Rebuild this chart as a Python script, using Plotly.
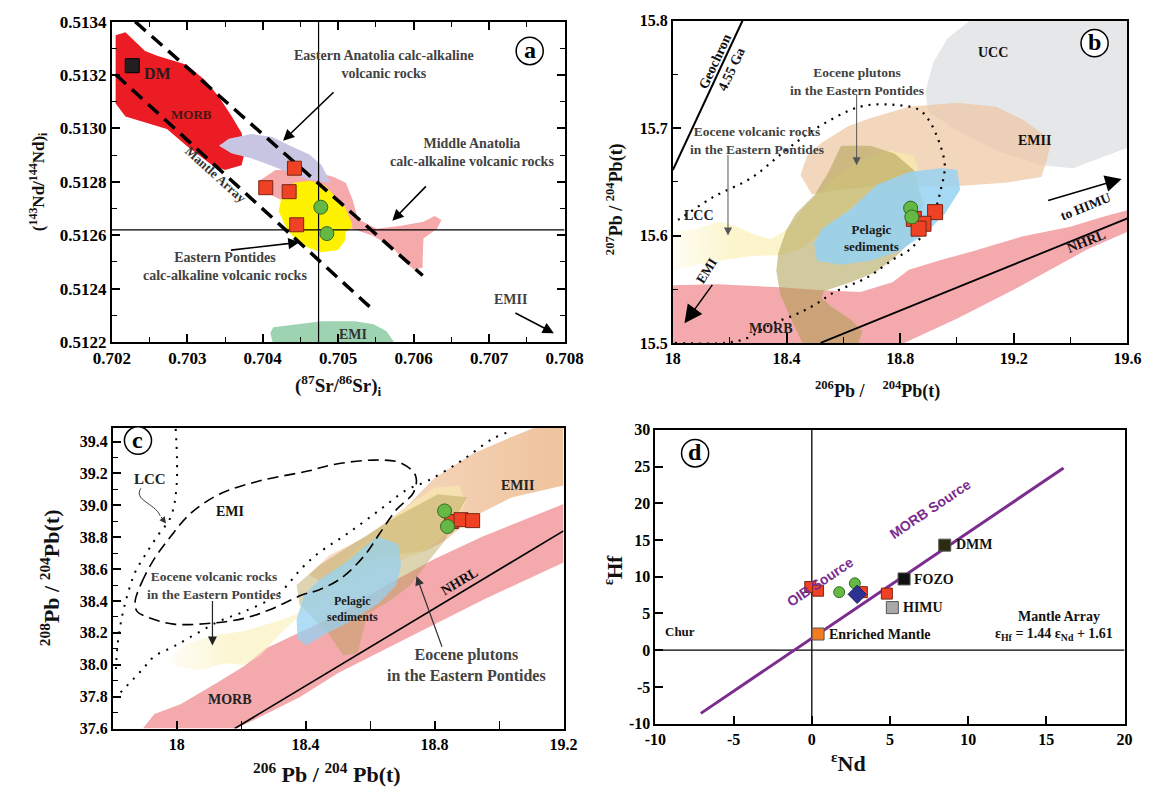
import plotly.graph_objects as go

W, H = 1160, 802
SERIF = "Liberation Serif"
SANS = "Liberation Sans"

# ---------------- panel a : (87Sr/86Sr)i vs (143Nd/144Nd)i ----------------
a_morb_x = [0.70205, 0.70218, 0.70244, 0.70260, 0.70299, 0.70324, 0.70342, 0.70359, 0.70372, 0.70376,
            0.70372, 0.70350, 0.70333, 0.70299, 0.70273, 0.70247, 0.70218, 0.70205, 0.70205]
a_morb_y = [0.513349, 0.513360, 0.513290, 0.513272, 0.513239, 0.513180, 0.513118, 0.513045, 0.512983, 0.512910,
            0.512862, 0.512844, 0.512862, 0.512935, 0.512998, 0.513019, 0.513045, 0.513093, 0.513202]
a_eanat_x = [0.70342, 0.70355, 0.70385, 0.70413, 0.70436, 0.70462, 0.70478, 0.70490, 0.70462, 0.70436,
             0.70410, 0.70385, 0.70359]
a_eanat_y = [0.512935, 0.512961, 0.512979, 0.512968, 0.512935, 0.512902, 0.512862, 0.512796, 0.512807, 0.512833,
             0.512862, 0.512888, 0.512906]
a_manat_x = [0.70397, 0.70417, 0.70462, 0.70494, 0.70510, 0.70519, 0.70526, 0.70551, 0.70583, 0.70613,
             0.70628, 0.70637, 0.70631, 0.70613, 0.70612, 0.70612, 0.70600, 0.70587, 0.70571, 0.70545,
             0.70519, 0.70487, 0.70449, 0.70410]
a_manat_y = [0.512807, 0.512844, 0.512844, 0.512818, 0.512796, 0.512734, 0.512661, 0.512624, 0.512635, 0.512650,
             0.512672, 0.512657, 0.512624, 0.512588, 0.512515, 0.512478, 0.512471, 0.512504, 0.512558, 0.512599,
             0.512624, 0.512643, 0.512697, 0.512752]
a_epont_x = [0.70426, 0.70442, 0.70462, 0.70481, 0.70491, 0.70509, 0.70517, 0.70519, 0.70510, 0.70509,
             0.70500, 0.70478, 0.70462, 0.70445, 0.70432, 0.70421]
a_epont_y = [0.512760, 0.512796, 0.512804, 0.512789, 0.512760, 0.512705, 0.512654, 0.512632, 0.512613, 0.512580,
             0.512544, 0.512536, 0.512551, 0.512577, 0.512624, 0.512690]
a_emi_x = [0.70413, 0.70410, 0.70414, 0.70436, 0.70478, 0.70522, 0.70547, 0.70564, 0.70574]
a_emi_y = [0.51220, 0.512233, 0.512255, 0.512262, 0.512277, 0.512277, 0.512266, 0.512240, 0.51220]
a_array_up_x = [0.70231, 0.70612]
a_array_up_y = [0.51340, 0.512449]
a_array_lo_x = [0.70205, 0.70549]
a_array_lo_y = [0.513202, 0.512313]
a_dm_x, a_dm_y = [0.70227], [0.513235]
a_sq_x = [0.70404, 0.70435, 0.70442, 0.70445]
a_sq_y = [0.512778, 0.512763, 0.512851, 0.512639]
a_ci_x = [0.70477, 0.70485]
a_ci_y = [0.512705, 0.512606]
a_ref_sr = 0.70474
a_ref_nd = 0.51262

# ---------------- panel b : 206Pb/204Pb vs 207Pb/204Pb ----------------
b_ucc_x = [19.045, 18.967, 18.916, 18.889, 18.899, 19.001, 19.137, 19.297, 19.409, 19.511, 19.6, 19.6]
b_ucc_y = [15.8, 15.7836, 15.7609, 15.7336, 15.7155, 15.6973, 15.6791, 15.6655, 15.6627, 15.6727, 15.6818, 15.8]
b_emii_x = [18.449, 18.473, 18.524, 18.616, 18.694, 18.831, 19.001, 19.137, 19.229, 19.297,
            19.331, 19.314, 19.297, 19.171, 19.069, 18.967, 18.763, 18.592, 18.490]
b_emii_y = [15.6564, 15.6745, 15.6864, 15.7018, 15.7091, 15.7200, 15.7236, 15.7200, 15.7082, 15.6955,
            15.6864, 15.6682, 15.6545, 15.6491, 15.6473, 15.6455, 15.6473, 15.6427, 15.6382]
b_lcc_x = [18.0, 18.082, 18.160, 18.218, 18.276, 18.344, 18.405, 18.473, 18.558, 18.660, 18.763,
           18.848, 18.865, 18.780, 18.660, 18.558, 18.456, 18.378, 18.276, 18.160, 18.082, 18.0]
b_lcc_y = [15.6036, 15.6064, 15.6127, 15.6091, 15.6018, 15.5964, 15.6064, 15.6291, 15.6518, 15.6700, 15.6791,
           15.6745, 15.6609, 15.6518, 15.6336, 15.6109, 15.5882, 15.5818, 15.5809, 15.5764, 15.5727, 15.5673]
b_morb_x = [18.0, 18.160, 18.378, 18.524, 18.660, 18.773, 18.831, 18.943, 19.059, 19.113, 19.229,
            19.399, 19.511, 19.6, 19.6, 19.454, 19.229, 19.001, 18.814, 18.0]
b_morb_y = [15.5536, 15.5545, 15.5518, 15.5491, 15.5473, 15.5564, 15.5682, 15.5773, 15.5855, 15.5900, 15.5991,
            15.6082, 15.6173, 15.6236, 15.6036, 15.5864, 15.5536, 15.5227, 15.5, 15.5]
b_plut_x = [18.592, 18.548, 18.500, 18.432, 18.398, 18.371, 18.364, 18.378, 18.412, 18.443, 18.456, 18.654,
            18.667, 18.626, 18.558, 18.524, 18.531, 18.626, 18.711, 18.780, 18.848, 18.882, 18.848, 18.780, 18.694]
b_plut_y = [15.6836, 15.6591, 15.6382, 15.6200, 15.6045, 15.5836, 15.5673, 15.5455, 15.5245, 15.5064, 15.5, 15.5,
            15.5109, 15.5218, 15.5336, 15.5418, 15.5482, 15.5564, 15.5655, 15.5791, 15.5973, 15.6291, 15.6609,
            15.6764, 15.6836]
b_pel_x = [18.497, 18.524, 18.626, 18.718, 18.831, 18.943, 19.001, 19.011, 18.957, 18.889, 18.797,
           18.694, 18.592, 18.507]
b_pel_y = [15.5927, 15.6064, 15.6245, 15.6473, 15.6591, 15.6627, 15.6609, 15.6427, 15.6200, 15.6018, 15.5855,
           15.5764, 15.5727, 15.5764]
b_volc_x = [18.007, 18.184, 18.262, 18.344, 18.432, 18.500, 18.569, 18.684, 18.773, 18.831, 18.875, 18.916,
            18.943, 18.957, 18.933, 18.899, 18.865, 18.773, 18.660, 18.500, 18.388, 18.276, 18.140, 18.024, 18.0]
b_volc_y = [15.5, 15.5, 15.5045, 15.5173, 15.5264, 15.5355, 15.5473, 15.5609, 15.5773, 15.5864, 15.5991, 15.6182,
            15.6427, 15.6655, 15.6900, 15.7082, 15.7173, 15.7218, 15.7200, 15.6991, 15.6773, 15.6536, 15.6355,
            15.6155, 15.6120]
b_geochron_x = [18.0, 18.245]
b_geochron_y = [15.661, 15.8]
b_nhrl_x = [18.52, 19.6]
b_nhrl_y = [15.5, 15.616]
b_sq_x = [18.923, 18.848, 18.882, 18.865]
b_sq_y = [15.6218, 15.6155, 15.6109, 15.6064]
b_ci_x = [18.837, 18.841]
b_ci_y = [15.6255, 15.6173]

# ---------------- panel c : 206Pb/204Pb vs 208Pb/204Pb ----------------
c_morb_x = [17.895, 17.931, 18.012, 18.111, 18.210, 18.276, 18.360, 18.501, 18.651, 18.801, 18.951, 19.101,
            19.2, 19.2, 18.951, 18.711, 18.501, 18.381, 18.261, 18.186]
c_morb_y = [37.6, 37.6918, 37.753, 37.8694, 37.9918, 38.102, 38.1816, 38.3163, 38.5, 38.6653, 38.8061, 38.9286,
            39.0082, 38.6408, 38.4082, 38.1633, 37.949, 37.7959, 37.6735, 37.6]
c_emii_x = [19.125, 19.2, 19.2, 19.041, 18.921, 18.831, 18.771, 18.651, 18.531, 18.441, 18.411, 18.471,
            18.591, 18.711, 18.801, 18.921, 19.041]
c_emii_y = [39.5, 39.5, 39.1245, 39.051, 38.9286, 38.7755, 38.7143, 38.6837, 38.6224, 38.5306, 38.5612, 38.6837,
            38.8061, 38.9898, 39.1735, 39.3265, 39.4306]
c_lcc_x = [17.976, 18.030, 18.111, 18.210, 18.312, 18.372, 18.411, 18.501, 18.621, 18.711, 18.801, 18.876,
           18.897, 18.846, 18.771, 18.651, 18.501, 18.411, 18.321, 18.261, 18.210, 18.150, 18.072, 17.991]
c_lcc_y = [38.0408, 38.1326, 38.1816, 38.2122, 38.2735, 38.3163, 38.4388, 38.6224, 38.8367, 38.9898, 39.1122,
           39.1245, 39.0204, 38.8367, 38.7143, 38.6224, 38.5, 38.3653, 38.1939, 38.0592, 37.998, 38.0102,
           37.9673, 37.9918]
c_plut_x = [18.372, 18.441, 18.561, 18.681, 18.810, 18.900, 18.876, 18.831, 18.771, 18.726, 18.666, 18.591,
            18.561, 18.516, 18.471, 18.411, 18.381]
c_plut_y = [38.5, 38.6224, 38.7755, 38.9286, 39.0694, 39.051, 38.9592, 38.7755, 38.6224, 38.5, 38.4082, 38.3163,
            38.0714, 38.0592, 38.1939, 38.3163, 38.3775]
c_pel_x = [18.372, 18.396, 18.441, 18.531, 18.621, 18.687, 18.696, 18.681, 18.630, 18.540, 18.462, 18.402, 18.375]
c_pel_y = [38.2857, 38.4388, 38.5306, 38.653, 38.8061, 38.7571, 38.6224, 38.5, 38.3898, 38.2735, 38.1939,
           38.1204, 38.1633]
c_emi_x = [17.871, 17.892, 17.931, 17.982, 18.042, 18.132, 18.261, 18.411, 18.480, 18.612, 18.696, 18.741,
           18.735, 18.681, 18.630, 18.582, 18.510, 18.441, 18.390, 18.291, 18.210, 18.111,
           17.991, 17.910, 17.877, 17.871]
c_emi_y = [38.3959, 38.5184, 38.6653, 38.8061, 38.9469, 39.0694, 39.1551, 39.2163, 39.2531, 39.2837, 39.2653,
           39.1857, 39.0816, 38.9714, 38.8245, 38.6837, 38.5429, 38.4694, 38.4388, 38.3469, 38.2918,
           38.2612, 38.2551, 38.298, 38.3347, 38.3959]
c_lcc_up_x = [17.997, 18.0, 17.982, 17.940, 17.901, 17.871, 17.850, 17.832, 17.817, 17.811]
c_lcc_up_y = [39.4796, 39.1306, 38.9286, 38.8061, 38.6837, 38.5796, 38.4571, 38.3163, 38.1326, 37.9306]
c_volc_x = [17.826, 17.892, 17.931, 17.991, 18.060, 18.132, 18.210, 18.312, 18.390, 18.441, 18.531, 18.630,
            18.711, 18.780, 18.882, 18.981, 19.032]
c_volc_y = [37.8265, 37.9673, 38.053, 38.1143, 38.1939, 38.2735, 38.3347, 38.4388, 38.6102, 38.702, 38.8245,
            38.9714, 39.0939, 39.1551, 39.2776, 39.4184, 39.4612]
c_nhrl_x = [18.18, 19.2]
c_nhrl_y = [37.6, 38.84]
c_sq_x = [18.852, 18.882, 18.918]
c_sq_y = [38.898, 38.910, 38.904]
c_ci_x = [18.831, 18.840]
c_ci_y = [38.965, 38.867]

# ---------------- panel d : eNd vs eHf ----------------
d_array_x = [-7.1, 16.1]
d_array_y = [-8.6, 24.8]
d_sq_x = [-0.1, 0.4, 3.2, 4.8]
d_sq_y = [8.6, 8.1, 7.9, 7.7]
d_ci_x = [1.75, 2.75]
d_ci_y = [7.9, 9.1]
d_dia_x = [2.9]
d_dia_y = [7.6]
d_end_names = ["DMM", "FOZO", "HIMU", "Enriched Mantle"]
d_end_x = [8.5, 5.9, 5.15, 0.4]
d_end_y = [14.3, 9.7, 5.8, 2.2]
d_end_colors = ["#2b2b10", "#111111", "#a9a9a9", "#f47c20"]
d_xticks = [-10, -5, 0, 5, 10, 15, 20]
d_yticks = [-10, -5, 0, 5, 10, 15, 20, 25, 30]


def pdom(a, b, total, flip=False):
    if flip:
        return [1 - b / total, 1 - a / total]
    return [a / total, b / total]


def pp(x, y):
    return x / W, 1 - y / H


fig = go.Figure()


def poly(xs, ys, ax, color, grad=None):
    kw = dict(x=xs, y=ys, xaxis="x" + ax, yaxis="y" + ax, mode="lines", fill="toself",
              line=dict(width=0), fillcolor=color, hoverinfo="skip", showlegend=False)
    if grad is not None:
        kw["fillgradient"] = dict(type="horizontal", colorscale=grad)
    fig.add_trace(go.Scatter(**kw))


def line(xs, ys, ax, color="black", width=1.5, dash="solid", shape="linear"):
    fig.add_trace(go.Scatter(x=xs, y=ys, xaxis="x" + ax, yaxis="y" + ax, mode="lines",
                             line=dict(color=color, width=width, dash=dash, shape=shape),
                             hoverinfo="skip", showlegend=False))


def pts(xs, ys, ax, symbol, color, size, edge):
    fig.add_trace(go.Scatter(x=xs, y=ys, xaxis="x" + ax, yaxis="y" + ax, mode="markers",
                             marker=dict(symbol=symbol, color=color, size=size,
                                         line=dict(color=edge, width=1)),
                             hoverinfo="skip", showlegend=False))


# panel a
poly(a_morb_x, a_morb_y, "", "#ec1c24")
poly(a_manat_x, a_manat_y, "", "#f5a9aa")
poly(a_eanat_x, a_eanat_y, "", "#c7c5e2")
poly(a_epont_x, a_epont_y, "", "#fff200")
poly(a_emi_x, a_emi_y, "", "#9dd3b0")
line([a_ref_sr, a_ref_sr], [0.5122, 0.5134], "", width=1.2)
line([0.702, 0.708], [a_ref_nd, a_ref_nd], "", width=1.2)
line(a_array_up_x, a_array_up_y, "", width=3.5, dash="14px,8px")
line(a_array_lo_x, a_array_lo_y, "", width=3.5, dash="14px,8px")
pts(a_dm_x, a_dm_y, "", "square", "#231f20", 14, "#000000")
pts(a_sq_x, a_sq_y, "", "square", "#ef4123", 14, "#7a2614")
pts(a_ci_x, a_ci_y, "", "circle", "#65b843", 14, "#2f6b22")

# panel b
poly(b_ucc_x, b_ucc_y, "2", "#e6e7e9")
poly(b_emii_x, b_emii_y, "2", "rgba(238,196,158,0.68)")
poly(b_lcc_x, b_lcc_y, "2", "rgba(250,238,170,0.6)",
     grad=[[0, "rgba(250,238,170,0.15)"], [0.25, "rgba(250,238,170,0.6)"], [1, "rgba(250,238,170,0.6)"]])
poly(b_morb_x, b_morb_y, "2", "rgba(240,140,145,0.75)")
poly(b_plut_x, b_plut_y, "2", "rgba(172,158,78,0.55)")
poly(b_pel_x, b_pel_y, "2", "rgba(150,210,242,0.85)")
line(b_volc_x, b_volc_y, "2", width=2.2, dash="2px,6px", shape="spline")
line(b_geochron_x, b_geochron_y, "2", width=2)
line(b_nhrl_x, b_nhrl_y, "2", width=1.8)
pts(b_sq_x, b_sq_y, "2", "square", "#ef4123", 15, "#7a2614")
pts(b_ci_x, b_ci_y, "2", "circle", "#65b843", 14, "#2f6b22")

# panel c
poly(c_morb_x, c_morb_y, "3", "rgba(240,140,145,0.75)")
poly(c_emii_x, c_emii_y, "3", "rgba(240,200,165,0.8)",
     grad=[[0, "rgba(246,215,188,0.8)"], [1, "rgba(236,185,140,0.85)"]])
poly(c_lcc_x, c_lcc_y, "3", "rgba(250,238,175,0.55)",
     grad=[[0, "rgba(250,238,175,0.1)"], [0.2, "rgba(250,238,175,0.55)"], [1, "rgba(250,238,175,0.55)"]])
poly(c_plut_x, c_plut_y, "3", "rgba(180,160,85,0.45)")
poly(c_pel_x, c_pel_y, "3", "rgba(150,210,242,0.75)")
line(c_emi_x, c_emi_y, "3", width=1.6, dash="11px,6px", shape="spline")
line(c_lcc_up_x, c_lcc_up_y, "3", width=2, dash="2px,7px", shape="spline")
line(c_volc_x, c_volc_y, "3", width=2, dash="2px,7px", shape="spline")
line(c_nhrl_x, c_nhrl_y, "3", width=1.6)
pts(c_sq_x, c_sq_y, "3", "square", "#ef4123", 14, "#7a2614")
pts(c_ci_x, c_ci_y, "3", "circle", "#65b843", 14, "#2f6b22")

# panel d
line([0, 0], [-10, 30], "4", width=1.3)
line([-10, 20], [0, 0], "4", width=1.3)
line(d_array_x, d_array_y, "4", color="#7b2d8f", width=3)
pts(d_sq_x, d_sq_y, "4", "square", "#ef4123", 11, "#7a2614")
pts(d_ci_x, d_ci_y, "4", "circle", "#65b843", 11, "#2f6b22")
pts(d_dia_x, d_dia_y, "4", "diamond", "#2e3192", 14, "#1b1d5c")
for nm, ex, ey, ec in zip(d_end_names, d_end_x, d_end_y, d_end_colors):
    pts([ex], [ey], "4", "square", ec, 12, "#555555")


def axis(px0, px1, rng, dtick, minor, anchor, fmt="", size=16, mirror="ticks", ticks=True, flip=False,
         total=W, ticklen=8, minor_len=5, lw=1.8, ticklist=None):
    d = dict(domain=pdom(px0, px1, total, flip), range=rng, anchor=anchor, showgrid=False, zeroline=False,
             showline=True, linecolor="black", linewidth=lw, mirror=mirror,
             ticks="inside" if ticks else "", ticklen=ticklen, tickwidth=1.5, tickcolor="black",
             dtick=dtick, tickformat=fmt,
             tickfont=dict(family=SERIF, size=size, color="black", weight="bold"))
    if ticklist is not None:
        d.pop("dtick")
        d.update(tickmode="array", tickvals=ticklist, ticktext=[str(t) for t in ticklist])
    if minor:
        d["minor"] = dict(dtick=minor, ticks="inside", ticklen=minor_len, tickwidth=1.3,
                          tickcolor="black", showgrid=False)
    return d


layout = dict(
    width=W, height=H, margin=dict(l=0, r=0, t=0, b=0),
    paper_bgcolor="white", plot_bgcolor="white", showlegend=False,
    xaxis=axis(96, 564, [0.702, 0.708], 0.001, 0.0005, "y", ".3f", 17),
    yaxis=axis(13, 341, [0.5122, 0.5134], 0.0002, 0.0001, "x", ".4f", 17, flip=True, total=H),
    xaxis2=axis(676, 1146, [18, 19.6], 0.4, 0.2, "y2", "", 16, mirror=True, ticklen=10, minor_len=6),
    yaxis2=axis(12, 342, [15.5, 15.8], 0.1, 0.05, "x2", ".1f", 16, mirror=True, flip=True, total=H),
    xaxis3=axis(97, 563, [17.802, 19.2], 0.4, 0.2, "y3", "", 16, mirror=True, ticklen=8, minor_len=8),
    yaxis3=axis(429, 737, [37.6, 39.486], 0.2, 0.1, "x3", ".1f", 16, mirror=True, flip=True, total=H),
    xaxis4=axis(658, 1143, [-10, 20], 5, None, "y4", "", 16, mirror=True, ticklist=d_xticks),
    yaxis4=axis(431, 732, [-10, 30], 5, None, "x4", "", 16, mirror=True, flip=True, total=H,
                ticklist=d_yticks),
    yaxis5=dict(overlaying="y4", anchor="x4", side="right", range=[0, 301], showgrid=False, zeroline=False,
                showline=False, ticks="inside", ticklen=8, tickwidth=1.5, tickcolor="black",
                tickmode="array", tickvals=[32, 86, 140, 194, 247], showticklabels=False),
)

ann = []


def label(text, x, y, size=14, color="#333333", angle=0, xanchor="center", family=SERIF):
    X, Y = pp(x, y)
    ann.append(dict(text=text, x=X, y=Y, xref="paper", yref="paper", showarrow=False, textangle=angle,
                    xanchor=xanchor, yanchor="middle",
                    font=dict(family=family, size=size, color=color, weight="bold")))


def arrow(hx, hy, tx, ty, color="black", width=1.5, head=2, size=1.3):
    X, Y = pp(hx, hy)
    ann.append(dict(text="", x=X, y=Y, xref="paper", yref="paper", ax=tx - hx, ay=ty - hy,
                    showarrow=True, arrowhead=head, arrowsize=size, arrowwidth=width, arrowcolor=color))


GRAY = "#424242"
# panel a labels
label("DM", 143, 66, 16, "#2a1a1a")
label("MORB", 178, 108, 13, "#4a1515")
label("Mantle Array", 203, 170, 13, "#333333", angle=42)
label("Eastern Anatolia calc-alkaline<br>volcanic rocks", 377, 57, 14, GRAY)
arrow(273, 135, 325, 85, width=1.6, size=1.4)
label("Middle Anatolia<br>calc-alkaline volcanic rocks", 468, 147, 14, GRAY)
arrow(386, 217, 421, 181, width=1.6, size=1.4)
label("Eastern Pontides<br>calc-alkaline volcanic rocks", 213, 264, 14, GRAY)
arrow(290, 239, 220, 247, width=1.6, size=1.4)
label("EMII", 508, 298, 14, GRAY)
arrow(553, 332, 513, 311, width=1.6, size=1.4)
label("EMI", 345, 333, 14, "#333333")

# panel b labels
label("Geochron<br>4.55 Ga", 728, 58, 14, "#111111", angle=-65)
label("Eocene volcanic rocks<br>in the Eastern Pontides", 763, 135, 13.5, GRAY)
arrow(733, 232, 733, 150, color="#555555", width=1, size=1.6)
label("Eocene plutons<br>in the Eastern Pontides", 866, 74, 13.5, GRAY)
arrow(866, 160, 866, 88, color="#555555", width=1, size=1.6)
label("UCC", 1007, 45, 14, "#111111")
label("EMII", 1050, 135, 14, "#111111")
label("LCC", 703, 212, 14, "#222222")
label("Pelagic<br>sediments", 881, 235, 13, "#1a1a1a")
label("to HIMU", 1103, 202, 13.5, "#111111", angle=-22)
arrow(1140, 174, 1065, 196, width=1.5, size=2.2)
label("EMI", 711, 268, 13.5, "#111111", angle=-58)
arrow(688, 322, 717, 282, width=1.5, size=2.4)
label("MORB", 777, 327, 14, "#222222")
label("NHRL", 1103, 238, 14, "#111111", angle=-22)

# panel c labels
label("LCC", 135, 481, 15, "#222222")
label("EMI", 218, 515, 14, "#111111")
label("Eocene volcanic rocks<br>in the Eastern Pontides", 202, 591, 13.5, GRAY)
arrow(200, 652, 200, 606, color="#222222", width=1.2, size=1.5)
label("MORB", 218, 707, 14, "#222222")
label("EMII", 515, 488, 14, "#222222")
label("Pelagic<br>sediments", 345, 615, 12, "#1a1a1a")
label("NHRL", 455, 586, 14, "#111111", angle=-31)
label("Eocene plutons<br>in the Eastern Pontides", 463, 672, 16, GRAY)
arrow(411, 581, 437, 653, color="#333333", width=1.2, size=1.5)
arrow(152, 527, 146, 519, color="#333333", width=1, size=1.3)

# panel d labels
label("OIB Source", 828, 587, 14, "#7b2d8f", angle=-34, family=SANS)
label("MORB Source", 942, 512, 14, "#7b2d8f", angle=-34, family=SANS)
label("DMM", 967, 549, 14, "#111111", xanchor="left")
label("FOZO", 923, 584, 14, "#111111", xanchor="left")
label("HIMU", 912, 613, 14, "#111111", xanchor="left")
label("Enriched Mantle", 835, 641, 14, "#111111", xanchor="left")
label("Chur", 666, 638, 13, "#111111", xanchor="left")
label("Mantle Array", 1075, 622, 14, "#111111")
label("ε<sub>Hf</sub> = 1.44 ε<sub>Nd</sub> + 1.61", 1070, 641, 14, "#111111")

# axis titles
label("(<sup>87</sup>Sr/<sup>86</sup>Sr)<sub>i</sub>", 330, 386, 19, "#111111")
label("(<sup>143</sup>Nd/<sup>144</sup>Nd)<sub>i</sub>", 20, 177, 17, "#111111", angle=-90)
label("<sup>206</sup>Pb /\u00a0\u00a0\u00a0\u00a0<sup>204</sup>Pb(t)", 888, 390, 18, "#111111")
label("<sup>207</sup>Pb / <sup>204</sup>Pb(t)", 617, 195, 18, "#111111", angle=-90)
label("<sup>206</sup> Pb / <sup>204</sup> Pb(t)", 318, 783, 22, "#111111")
label("<sup>208</sup>Pb / <sup>204</sup>Pb(t)", 32, 582, 22, "#111111", angle=-90)
label("<sup>ε</sup>Nd", 858, 771, 22, "#111111")
label("<sup>ε</sup>Hf", 615, 574, 21, "#111111", angle=-90)

# panel letters
shapes = []
for letter, cx, cy in [("a", 528, 43), ("b", 1112, 35), ("c", 123, 442), ("d", 699, 455)]:
    x0, y1 = pp(cx - 14, cy - 14)
    x1, y0 = pp(cx + 14, cy + 14)
    shapes.append(dict(type="circle", xref="paper", yref="paper", x0=x0, x1=x1, y0=y0, y1=y1,
                       line=dict(color="black", width=1.5), fillcolor="white"))
    label(letter, cx, cy - 1, 24, "#000000")

# curled pointer from the LCC label in panel c
p = [pp(126, 491), pp(118, 503), pp(140, 506), pp(146, 519)]
shapes.append(dict(type="path", xref="paper", yref="paper",
                   path="M %f,%f C %f,%f %f,%f %f,%f" % (p[0][0], p[0][1], p[1][0], p[1][1],
                                                         p[2][0], p[2][1], p[3][0], p[3][1]),
                   line=dict(color="#333333", width=1)))

layout["annotations"] = ann
layout["shapes"] = shapes
fig.update_layout(**layout)
fig.write_html("out.html")
